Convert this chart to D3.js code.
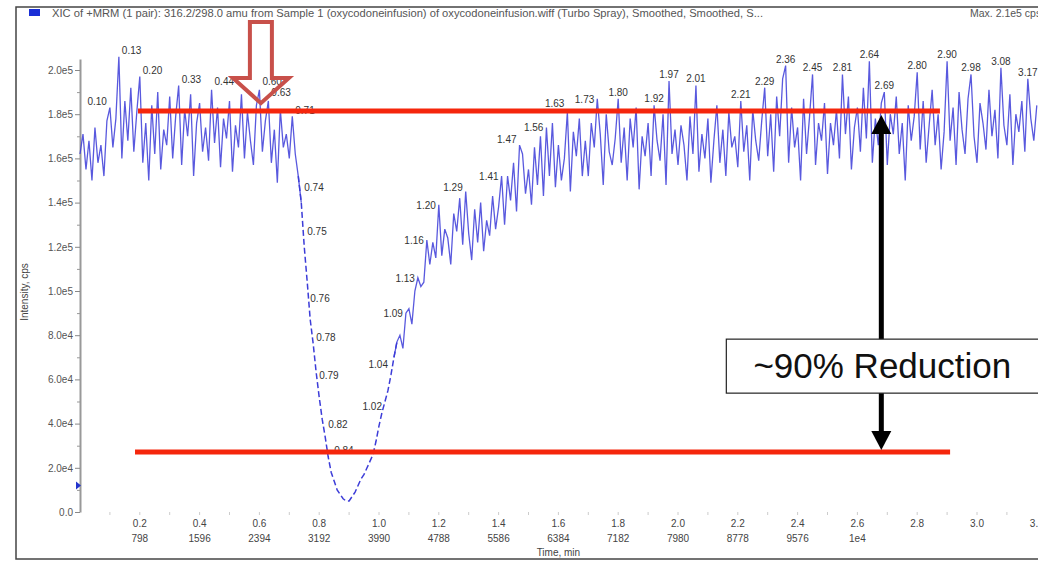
<!DOCTYPE html>
<html>
<head>
<meta charset="utf-8">
<script src="https://cdn.jsdelivr.net/npm/d3@7"></script>
<style>
    body { margin: 0; background: #fff; }
    svg { display: block; font-family: "Liberation Sans", Arial, sans-serif; }
</style>
</head>
<body>
<div id="chart"></div>
<script>
// XIC trace, intensity in thousands of cps, one reading every 0.01 min starting at 0.00
const sampleStep = 0.01;
const intensity = [
    162,171,155,168,150,174,158,166,152,177,
    183,165,178,206,160,186,168,192,163,181,
    197,158,176,150,184,162,190,155,173,166,
    188,160,179,193,157,182,170,189,152,176,
    185,163,174,159,191,167,183,156,178,169,
    186,154,175,165,189,160,181,168,157,184,
    191,163,177,186,158,173,149,182,165,171,
    160,179,162,152,140,120,104,87,76,63,
    52,42,34,25,18,14,10,8,6,5,
    5,7,9,12,15,17,20,23,26,32,
    39,45,50,55,62,70,77,80,74,90,
    92,85,100,106,102,104,123,112,122,115,
    139,116,128,124,112,135,127,142,121,145,
    126,114,137,122,140,118,132,125,143,128,
    138,152,130,152,141,158,136,166,162,144,
    155,139,165,148,170,143,174,152,176,147,
    166,150,160,181,145,172,161,178,152,168,
    152,176,165,187,171,148,180,163,157,169,
    187,158,174,150,178,165,183,146,170,161,
    176,152,184,168,159,180,148,195,162,173,
    157,175,166,150,179,162,193,154,171,160,
    178,149,168,184,158,173,152,181,165,170,
    156,186,163,175,150,182,168,159,177,192,
    161,180,154,188,170,196,202,158,183,165,
    174,150,187,162,179,198,157,176,168,185,
    153,176,166,182,160,198,171,188,155,174,
    183,163,192,169,204,158,178,166,185,190,
    157,180,171,188,162,176,150,184,168,179,
    199,164,186,158,175,191,166,180,155,172,
    204,168,183,157,190,173,162,187,198,170,
    158,185,176,164,191,170,182,160,201,175,
    166,189,157,180,172,186,163,196,178,168,
    184
];

// peak annotations: text shown, apex time (min), apex height (thousands of cps)
const peakLabels = ["0.10","0.13","0.20","0.33","0.44","0.60","0.63","0.71","0.74","0.75","0.76","0.78",
    "0.79","0.82","0.84","1.02","1.04","1.09","1.13","1.16","1.20","1.29","1.41","1.47","1.56","1.63",
    "1.73","1.80","1.92","1.97","2.01","2.21","2.29","2.36","2.45","2.81","2.64","2.69","2.80","2.90",
    "2.98","3.08","3.17"];
const peakTimes = [0.10,0.13,0.20,0.33,0.44,0.60,0.63,0.71,0.74,0.75,0.76,0.78,
    0.79,0.82,0.84,1.02,1.04,1.09,1.13,1.16,1.20,1.29,1.41,1.47,1.56,1.63,
    1.73,1.80,1.92,1.97,2.06,2.21,2.29,2.36,2.45,2.55,2.64,2.69,2.80,2.90,
    2.98,3.08,3.17];
const peakHeights = [186,209,200,196,195,195,190,182,147,127,97,79,
    62,40,28,48,67,90,106,123,139,147,152,169,174,185,
    187,187,184,195,193,186,192,202,198,198,204,190,199,204,
    198,201,196];

const yTicks = [0, 2e4, 4e4, 6e4, 8e4, 1e5, 1.2e5, 1.4e5, 1.6e5, 1.8e5, 2e5];
const yTickLabels = ["0.0","2.0e4","4.0e4","6.0e4","8.0e4","1.0e5","1.2e5","1.4e5","1.6e5","1.8e5","2.0e5"];
const xTicks = [0.2,0.4,0.6,0.8,1.0,1.2,1.4,1.6,1.8,2.0,2.2,2.4,2.6,2.8,3.0,3.2];
const scanLabels = ["798","1596","2394","3192","3990","4788","5586","6384","7182","7980","8778","9576","1e4","","",""];

const titleText = "XIC of +MRM (1 pair): 316.2/298.0 amu from Sample 1 (oxycodoneinfusion) of oxycodoneinfusion.wiff (Turbo Spray), Smoothed, Smoothed, S...";
const maxText = "Max. 2.1e5 cps.";

// annotation levels (thousands of cps) and spans (min)
const upperLevel = 181.4, upperSpan = [0.194, 2.876];
const lowerLevel = 27.1, lowerSpan = [0.184, 2.91];
const arrowTime = 2.68;
const thresholdLevel = 12;
const pointerTime = 0.605, pointerLevel = 185;

const width = 1038, height = 563;

const svg = d3.select("#chart").append("svg")
    .attr("width", width)
    .attr("height", height);

svg.append("rect").attr("width", width).attr("height", height).attr("fill", "#fff");

const x = d3.scaleLinear().domain([0, 3.2]).range([80, 80 + 3.2 * 299]);
const y = d3.scaleLinear().domain([0, 205]).range([512, 512 - 2.05 * 221]);

// outer frame
svg.append("rect")
    .attr("x", 16).attr("y", 7)
    .attr("width", 1040).attr("height", 552)
    .attr("fill", "none")
    .attr("stroke", "#444")
    .attr("stroke-width", 1.5);

// header
svg.append("rect")
    .attr("x", 29).attr("y", 9)
    .attr("width", 11).attr("height", 7)
    .attr("fill", "#1a2fd6");

svg.append("text")
    .attr("x", 52).attr("y", 17)
    .attr("font-size", 10.5)
    .attr("fill", "#555")
    .attr("textLength", 711)
    .attr("lengthAdjust", "spacingAndGlyphs")
    .text(titleText);

svg.append("text")
    .attr("x", 970).attr("y", 17)
    .attr("font-size", 10.5)
    .attr("fill", "#555")
    .text(maxText);

// y axis
const yAxis = svg.append("g")
    .attr("transform", "translate(80,0)")
    .call(d3.axisLeft(y)
        .tickValues(yTicks.map((d) => d / 1000))
        .tickFormat((d, i) => yTickLabels[i])
        .tickSize(5)
        .tickSizeOuter(0));
yAxis.select(".domain").attr("stroke", "#999").attr("stroke-width", 2);
yAxis.selectAll(".tick line").attr("stroke", "#888");
yAxis.selectAll(".tick text")
    .attr("font-size", 10)
    .attr("fill", "#555")
    .attr("font-family", "Liberation Sans, Arial, sans-serif")
    .attr("x", -7);

const minor = svg.append("g")
    .attr("transform", "translate(80,0)")
    .call(d3.axisLeft(y)
        .tickValues(d3.range(10, 205, 20))
        .tickFormat("")
        .tickSize(3)
        .tickSizeOuter(0));
minor.select(".domain").remove();
minor.selectAll(".tick line").attr("stroke", "#999");

svg.append("text")
    .attr("transform", "translate(28,292) rotate(-90)")
    .attr("text-anchor", "middle")
    .attr("font-size", 10)
    .attr("fill", "#444")
    .text("Intensity, cps");

// threshold marker
svg.append("path")
    .attr("d", "M" + 76 + "," + (y(thresholdLevel) - 4) + "l5,4l-5,4z")
    .attr("fill", "#2233cc");

// x labels (no axis line in the original)
svg.selectAll(".xminor")
    .data(d3.range(1, 32).map((d) => d / 10))
    .enter()
    .append("line")
    .attr("class", "xminor")
    .attr("x1", (d) => x(d)).attr("x2", (d) => x(d))
    .attr("y1", 512).attr("y2", 515)
    .attr("stroke", "#ccc");

const xLab = svg.selectAll(".xlab")
    .data(xTicks)
    .enter()
    .append("text")
    .attr("class", "xlab")
    .attr("text-anchor", "middle")
    .attr("font-size", 10)
    .attr("fill", "#444");
xLab.append("tspan")
    .attr("x", (d) => x(d)).attr("y", 527)
    .text((d) => d.toFixed(1));
xLab.append("tspan")
    .attr("x", (d) => x(d)).attr("y", 542)
    .text((d, i) => scanLabels[i]);

svg.append("text")
    .attr("x", x(1.6)).attr("y", 556)
    .attr("text-anchor", "middle")
    .attr("font-size", 10)
    .attr("fill", "#444")
    .text("Time, min");

// trace
const line = d3.line()
    .x((d, i) => x(i * sampleStep))
    .y((d) => y(d));

svg.append("path")
    .datum(intensity)
    .attr("d", line.defined((d, i) => i <= 74 || i >= 105))
    .attr("fill", "none")
    .attr("stroke", "#3c3cd8")
    .attr("stroke-width", 1.3)
    .attr("stroke-opacity", 0.85);

svg.append("path")
    .datum(intensity)
    .attr("d", line.defined((d, i) => i >= 73 && i <= 106))
    .attr("fill", "none")
    .attr("stroke", "#3c3cd8")
    .attr("stroke-width", 1.5)
    .attr("stroke-dasharray", "6,3");

// peak labels
function anchorFor(t) {
    if (t < 0.12) return "end";
    if (t < 0.9) return "start";
    if (t < 1.76) return "end";
    return "middle";
}

svg.selectAll(".peak")
    .data(peakLabels)
    .enter()
    .append("text")
    .attr("class", "peak")
    .attr("font-size", 10)
    .attr("fill", "#333")
    .attr("text-anchor", (d, i) => anchorFor(peakTimes[i]))
    .attr("x", (d, i) => {
        const a = anchorFor(peakTimes[i]);
        return x(peakTimes[i]) + (a == "start" ? 3 : a == "end" ? -3 : 0);
    })
    .attr("y", (d, i) => anchorFor(peakTimes[i]) == "middle" ? y(peakHeights[i]) - 3 : y(peakHeights[i]) + 4)
    .text((d) => d);

// red guide lines
[[upperLevel, upperSpan], [lowerLevel, lowerSpan]].forEach(function(g) {
    svg.append("line")
        .attr("x1", x(g[1][0])).attr("x2", x(g[1][1]))
        .attr("y1", y(g[0])).attr("y2", y(g[0]))
        .attr("stroke", "#f5260c")
        .attr("stroke-width", 5);
});

// double arrow between the levels
const ax = x(arrowTime);
const topTip = y(upperLevel) + 4;
const botTip = y(lowerLevel) - 2;
svg.append("line")
    .attr("x1", ax).attr("x2", ax)
    .attr("y1", topTip + 15).attr("y2", botTip - 15)
    .attr("stroke", "#000")
    .attr("stroke-width", 5);
svg.append("path")
    .attr("d", "M" + ax + "," + topTip + "l10,19h-20z")
    .attr("fill", "#000");
svg.append("path")
    .attr("d", "M" + ax + "," + botTip + "l10,-19h-20z")
    .attr("fill", "#000");

// reduction box
const boxMid = y(66);
svg.append("rect")
    .attr("x", ax - 155).attr("y", boxMid - 27)
    .attr("width", 320).attr("height", 54)
    .attr("fill", "#fff")
    .attr("stroke", "#222")
    .attr("stroke-width", 1.2);
svg.append("text")
    .attr("x", ax + 1).attr("y", boxMid + 12)
    .attr("text-anchor", "middle")
    .attr("font-size", 35)
    .attr("fill", "#111")
    .text("~90% Reduction");

// hollow pointer arrow
const px = x(pointerTime), py = y(pointerLevel);
const pointer = [[px - 11, 22], [px + 11, 22], [px + 11, 78], [px + 28, 78], [px, py],
    [px - 28, 78], [px - 11, 78]];
svg.append("path")
    .attr("d", d3.line()(pointer) + "Z")
    .attr("fill", "none")
    .attr("stroke", "#c8504a")
    .attr("stroke-width", 4)
    .attr("stroke-linejoin", "miter");
</script>
</body>
</html>
